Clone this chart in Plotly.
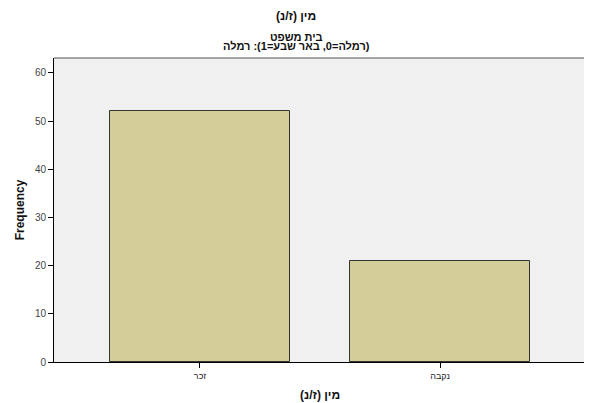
import plotly.graph_objects as go

categories = ["זכר", "נקבה"]
frequencies = [52, 21]
y_ticks = [0, 10, 20, 30, 40, 50, 60]

title_text = "מין (ז/נ)"
subtitle_1 = "בית משפט"
subtitle_2 = "(רמלה=0, באר שבע=1): רמלה"
x_title = "מין (ז/נ)"
y_title = "Frequency"


def rtl(s):
    return "\u202b" + s + "\u202c"


fig = go.Figure()
fig.add_trace(go.Bar(
    x=[0, 1], y=frequencies, width=0.746,
    marker=dict(color="#d3ce98", line=dict(color="#333333", width=1)),
    hoverinfo="skip",
))

# the page body has an 8px margin, so the figure is sized/offset to compensate
fig.update_layout(
    width=584, height=395,
    margin=dict(l=46, r=6, t=50, b=41, autoexpand=False),
    paper_bgcolor="white", plot_bgcolor="#f0f0f0",
    font=dict(family="Liberation Sans, Arial, sans-serif", color="#222222"),
    showlegend=False,
    bargap=0,
    xaxis=dict(
        range=[-0.608, 1.608], tickmode="array", tickvals=[0, 1],
        ticktext=[rtl(c) for c in categories],
        showline=True, linecolor="#000000", linewidth=1,
        ticks="outside", ticklen=5, tickcolor="#000000", tickwidth=1,
        tickfont=dict(size=9, color="#222222"), showgrid=False, zeroline=False,
    ),
    yaxis=dict(
        range=[0, 63.07], tickmode="array", tickvals=y_ticks,
        showline=True, linecolor="#000000", linewidth=1,
        ticks="outside", ticklen=5, tickcolor="#000000", tickwidth=1,
        tickfont=dict(size=10, color="#444444"), showgrid=False, zeroline=False,
        title=dict(text="<b>" + y_title + "</b>", font=dict(size=12, color="#111111"), standoff=7),
    ),
    shapes=[
        dict(type="line", xref="paper", yref="paper", x0=0, x1=1, y0=1, y1=1,
             line=dict(color="#888888", width=1.5)),
        dict(type="line", xref="paper", yref="paper", x0=1, x1=1, y0=0, y1=1,
             line=dict(color="#888888", width=2)),
    ],
    annotations=[
        dict(text="<b>" + rtl(title_text) + "</b>", xref="paper", yref="paper", x=0.455, y=1.0,
             yanchor="middle", yshift=42, showarrow=False, font=dict(size=12, color="#111111")),
        dict(text="<b>" + rtl(subtitle_1) + "</b>", xref="paper", yref="paper", x=0.455, y=1.0,
             yanchor="middle", yshift=21, showarrow=False, font=dict(size=11, color="#111111")),
        dict(text="<b>" + rtl(subtitle_2) + "</b>", xref="paper", yref="paper", x=0.455, y=1.0,
             yanchor="middle", yshift=12, showarrow=False, font=dict(size=11, color="#111111")),
        dict(text="<b>" + rtl(x_title) + "</b>", xref="paper", yref="paper", x=0.5, y=0,
             yanchor="middle", yshift=-33, showarrow=False, font=dict(size=12, color="#111111")),
    ],
)

fig.write_html("out.html")
